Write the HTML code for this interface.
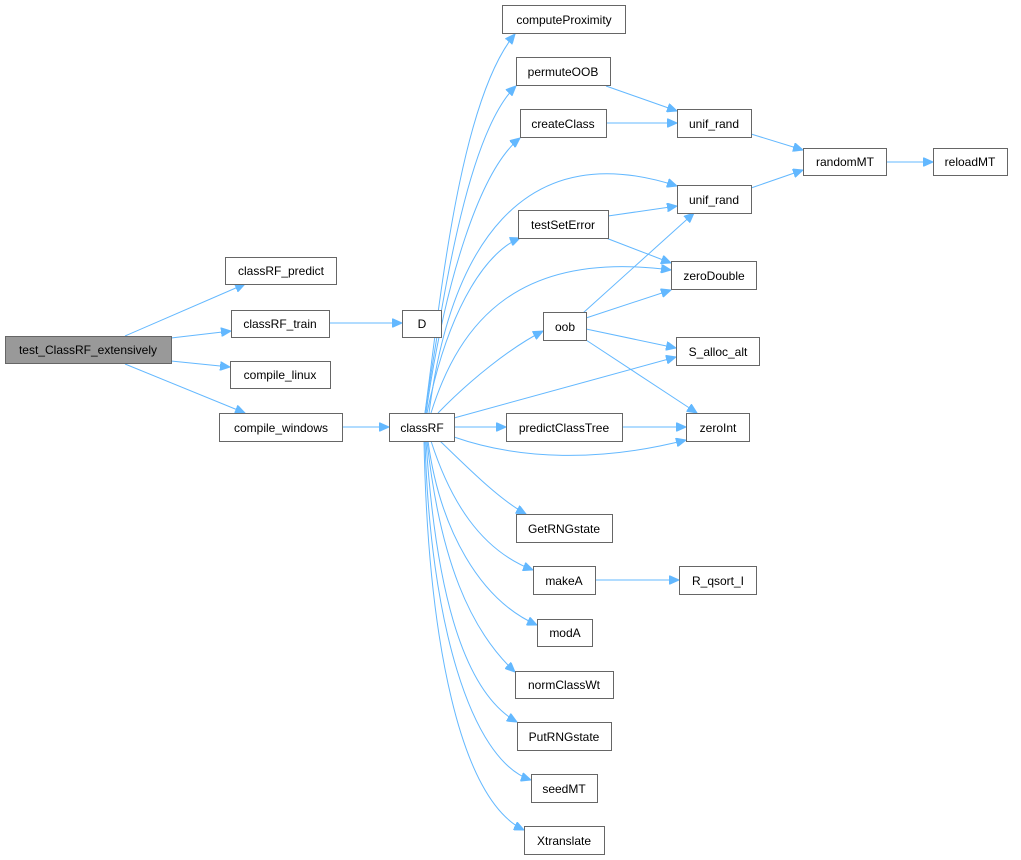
<!DOCTYPE html>
<html><head><meta charset="utf-8"><style>
body{margin:0;background:#fff}
svg{display:block}
text{font-family:"Liberation Sans",sans-serif;font-size:12px;fill:#000}
.n{fill:#fff;stroke:#666;stroke-width:1}
.e{fill:none;stroke:#63b8ff;stroke-width:1}
</style></head><body>
<svg width="1021" height="860" viewBox="0 0 1021 860" xmlns="http://www.w3.org/2000/svg">
<defs><marker id="a" markerWidth="11" markerHeight="9" refX="10" refY="4.5" orient="auto" markerUnits="userSpaceOnUse"><path d="M0,0 L10,4.5 L0,9 z" fill="#63b8ff" stroke="#63b8ff"/></marker></defs>
<g class="e" marker-end="url(#a)">
<path d="M125,336 L245,284"/>
<path d="M171,338 L231,331"/>
<path d="M171,361 L230,367"/>
<path d="M125,364 L245,413"/>
<path d="M329,323 L402,323"/>
<path d="M342,427 L389,427"/>
<path d="M425,413 C440,300 460,100 515,34"/>
<path d="M425,413 C445,280 470,130 516,86"/>
<path d="M426,413 C445,280 480,170 520,138"/>
<path d="M429,413 C450,250 520,135 677,186"/>
<path d="M427,413 C450,300 490,250 520,238"/>
<path d="M431,413 C460,320 520,250 671,270"/>
<path d="M438,413 C470,380 510,348 543,331"/>
<path d="M454,418 L676,357"/>
<path d="M454,427 L506,427"/>
<path d="M454,437 C520,460 600,462 686,440"/>
<path d="M440,441 C470,470 500,500 526,514"/>
<path d="M431,441 C450,500 480,550 533,570"/>
<path d="M428,441 C440,530 480,600 537,625"/>
<path d="M427,441 C440,560 470,630 515,672"/>
<path d="M426,441 C435,580 460,690 517,722"/>
<path d="M425,441 C430,620 470,760 531,780"/>
<path d="M424,441 C428,640 460,800 524,830"/>
<path d="M606,86 L677,111"/>
<path d="M606,123 L677,123"/>
<path d="M751,134 L803,150"/>
<path d="M751,188 L803,170"/>
<path d="M886,162 L933,162"/>
<path d="M608,216 L677,206"/>
<path d="M606,238 L671,263"/>
<path d="M583,313 L694,213"/>
<path d="M586,318 L671,290"/>
<path d="M586,329 L676,348"/>
<path d="M586,340 L697,413"/>
<path d="M622,427 L686,427"/>
<path d="M595,580 L679,580"/>
</g>
<rect x="5.5" y="336.5" width="166" height="27" fill="#999" stroke="#666"/>
<text x="88" y="354" text-anchor="middle">test_ClassRF_extensively</text>
<g>
<rect class="n" x="225.5" y="257.5" width="111" height="27"/><text x="281" y="275" text-anchor="middle">classRF_predict</text>
<rect class="n" x="231.5" y="310.5" width="98" height="27"/><text x="280" y="328" text-anchor="middle">classRF_train</text>
<rect class="n" x="402.5" y="310.5" width="39" height="27"/><text x="422" y="328" text-anchor="middle">D</text>
<rect class="n" x="230.5" y="361.5" width="100" height="27"/><text x="280" y="379" text-anchor="middle">compile_linux</text>
<rect class="n" x="219.5" y="413.5" width="123" height="28"/><text x="281" y="432" text-anchor="middle">compile_windows</text>
<rect class="n" x="389.5" y="413.5" width="65" height="28"/><text x="422" y="432" text-anchor="middle">classRF</text>
<rect class="n" x="502.5" y="5.5" width="123" height="28"/><text x="564" y="24" text-anchor="middle">computeProximity</text>
<rect class="n" x="516.5" y="57.5" width="94" height="28"/><text x="563" y="76" text-anchor="middle">permuteOOB</text>
<rect class="n" x="520.5" y="109.5" width="86" height="28"/><text x="563" y="128" text-anchor="middle">createClass</text>
<rect class="n" x="677.5" y="109.5" width="74" height="28"/><text x="714" y="128" text-anchor="middle">unif_rand</text>
<rect class="n" x="803.5" y="148.5" width="83" height="27"/><text x="845" y="166" text-anchor="middle">randomMT</text>
<rect class="n" x="933.5" y="148.5" width="74" height="27"/><text x="970" y="166" text-anchor="middle">reloadMT</text>
<rect class="n" x="677.5" y="185.5" width="74" height="28"/><text x="714" y="204" text-anchor="middle">unif_rand</text>
<rect class="n" x="518.5" y="210.5" width="90" height="28"/><text x="563" y="229" text-anchor="middle">testSetError</text>
<rect class="n" x="671.5" y="261.5" width="85" height="28"/><text x="714" y="280" text-anchor="middle">zeroDouble</text>
<rect class="n" x="543.5" y="312.5" width="43" height="28"/><text x="565" y="331" text-anchor="middle">oob</text>
<rect class="n" x="676.5" y="337.5" width="83" height="28"/><text x="718" y="356" text-anchor="middle">S_alloc_alt</text>
<rect class="n" x="506.5" y="413.5" width="116" height="28"/><text x="564" y="432" text-anchor="middle">predictClassTree</text>
<rect class="n" x="686.5" y="413.5" width="63" height="28"/><text x="718" y="432" text-anchor="middle">zeroInt</text>
<rect class="n" x="516.5" y="514.5" width="96" height="28"/><text x="564" y="533" text-anchor="middle">GetRNGstate</text>
<rect class="n" x="533.5" y="566.5" width="62" height="28"/><text x="564" y="585" text-anchor="middle">makeA</text>
<rect class="n" x="679.5" y="566.5" width="77" height="28"/><text x="718" y="585" text-anchor="middle">R_qsort_I</text>
<rect class="n" x="537.5" y="619.5" width="55" height="27"/><text x="565" y="637" text-anchor="middle">modA</text>
<rect class="n" x="515.5" y="671.5" width="98" height="27"/><text x="564" y="689" text-anchor="middle">normClassWt</text>
<rect class="n" x="517.5" y="722.5" width="94" height="28"/><text x="564" y="741" text-anchor="middle">PutRNGstate</text>
<rect class="n" x="531.5" y="774.5" width="66" height="28"/><text x="564" y="793" text-anchor="middle">seedMT</text>
<rect class="n" x="524.5" y="826.5" width="80" height="28"/><text x="564" y="845" text-anchor="middle">Xtranslate</text>
</g>
</svg>
</body></html>
